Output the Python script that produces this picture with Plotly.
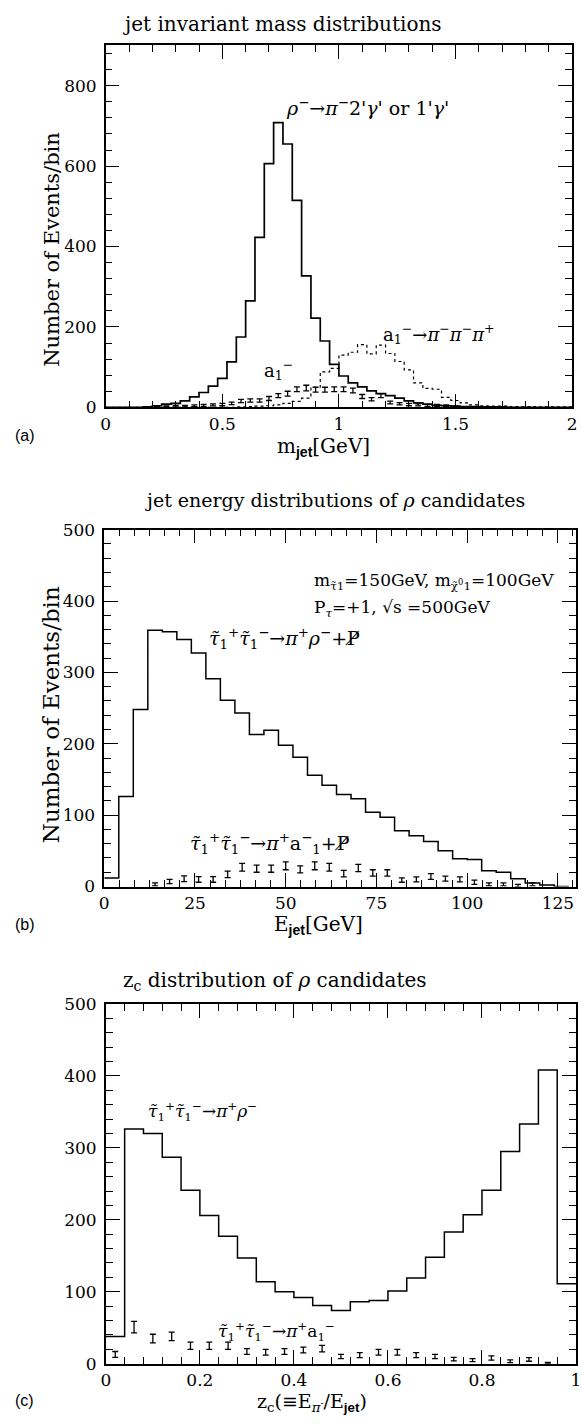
import plotly.graph_objects as go

W, H = 582, 1427

# ---------------- data ----------------
# (a) jet invariant mass, bins of 0.04 GeV from 0 to 2
a_bin0, a_binw = 0.0, 0.04
a_rho = [0, 0, 0, 0, 1, 4, 8, 10, 16, 26, 37, 53, 72, 113, 175, 265, 423, 606, 708, 655,
         515, 327, 222, 165, 107, 78, 61, 51, 41, 34, 29, 23, 16, 11, 8, 5, 4, 3, 2, 2,
         1, 1, 1, 0, 0, 0, 0, 0, 0, 0]
a_a1_3pi = [0, 0, 0, 0, 0, 0, 0, 0, 0, 0, 0, 0, 0, 0, 1, 2, 3, 4, 6, 10,
            15, 23, 50, 88, 97, 130, 137, 156, 133, 155, 134, 114, 93, 61, 47, 45, 25, 17, 11, 6,
            4, 3, 3, 2, 2, 2, 1, 1, 1, 1]
a_err_x = [0.22, 0.26, 0.30, 0.34, 0.38, 0.42, 0.46, 0.50, 0.54, 0.58, 0.62, 0.66, 0.70, 0.74,
           0.78, 0.82, 0.86, 0.90, 0.94, 0.98, 1.02, 1.06, 1.10, 1.14, 1.18, 1.22, 1.26, 1.30,
           1.34, 1.38, 1.42, 1.46, 1.50]
a_err_y = [2, 2, 3, 3, 4, 5, 6, 7, 10, 16, 17, 17, 22, 29, 34, 45, 48, 44, 44, 45, 45, 42,
           27, 20, 29, 12, 9, 7, 6, 5, 5, 4, 2]
a_err_e = [1.5, 1.5, 2, 2, 2, 2.5, 2.5, 3, 3, 4, 4, 4, 5, 5, 6, 6, 7, 6, 6, 6, 6, 6,
           5, 4, 5, 3.5, 3, 3, 2.5, 2.5, 2.5, 2, 1.5]

# (b) jet energy, bins of 4 GeV from 0 to 128
b_bin0, b_binw = 0.0, 4.0
b_rho = [12, 126, 248, 359, 357, 346, 327, 291, 261, 243, 213, 219, 198, 181, 156, 142,
         129, 123, 104, 97, 78, 71, 63, 50, 39, 38, 22, 20, 11, 5, 2, 0]
b_err_x = [14, 18, 22, 26, 30, 34, 38, 42, 46, 50, 54, 58, 62, 66, 70, 74, 78, 82, 86, 90,
           94, 98, 102, 106, 110, 114, 118]
b_err_y = [3, 7, 11, 10, 10, 17, 27, 25, 25, 29, 24, 29, 27, 18, 26, 19, 19, 9, 10, 14,
           11, 10, 6, 3, 3, 1.5, 3]
b_err_e = [2, 3, 4, 4, 4, 4.5, 5.5, 5, 5, 5.5, 5, 5.5, 5.5, 4.5, 5, 4.5, 4.5, 3, 3.5, 4,
           3.5, 3.5, 3, 2, 2, 1.5, 2]

# (c) z_c distribution, bins of 0.04 from 0 to 1
c_bin0, c_binw = 0.0, 0.04
c_rho = [38, 326, 320, 287, 241, 206, 177, 147, 114, 100, 92, 81, 74, 86, 88, 101, 119,
         148, 183, 207, 241, 295, 333, 408, 111]
c_err_x = [0.02, 0.06, 0.10, 0.14, 0.18, 0.22, 0.26, 0.30, 0.34, 0.38, 0.42, 0.46, 0.50,
           0.54, 0.58, 0.62, 0.66, 0.70, 0.74, 0.78, 0.82, 0.86, 0.90, 0.94]
c_err_y = [13, 51, 35, 38, 25, 25, 25, 17, 16, 17, 19, 21, 10, 12, 16, 16, 12, 10, 6.5, 5,
           8, 3.5, 6, 1]
c_err_e = [4, 8, 6, 6, 5, 5, 5, 4, 4, 4, 4, 4.5, 3, 3.5, 4, 4, 3.5, 3, 2.5, 2, 3, 2, 2.5, 1]


def step_xy(start, width, vals):
    xs = [start + i * width for i in range(len(vals) + 1)]
    ys = list(vals) + [vals[-1]]
    return xs, ys


SERIF = "DejaVu Serif"
fig = go.Figure()


def add_step(vals, start, width, xa, ya, dash="solid", lw=1.6):
    x, y = step_xy(start, width, vals)
    fig.add_trace(go.Scatter(x=x, y=y, mode="lines",
                             line=dict(color="black", width=lw, shape="hv", dash=dash),
                             xaxis=xa, yaxis=ya, showlegend=False, hoverinfo="skip"))


def add_err(xs, ys, es, xa, ya):
    fig.add_trace(go.Scatter(x=xs, y=ys, mode="markers",
                             marker=dict(size=1, color="rgba(0,0,0,0)"),
                             error_y=dict(type="data", array=es, color="black",
                                          thickness=1.3, width=3),
                             xaxis=xa, yaxis=ya, showlegend=False, hoverinfo="skip"))


# ---- panel (a)
add_step(a_rho, a_bin0, a_binw, "x", "y", lw=1.7)
add_step(a_a1_3pi, a_bin0, a_binw, "x", "y", dash="dot", lw=1.2)
add_err(a_err_x, a_err_y, a_err_e, "x", "y")
# ---- panel (b)
add_step(b_rho, b_bin0, b_binw, "x2", "y2", lw=1.5)
add_err(b_err_x, b_err_y, b_err_e, "x2", "y2")
# ---- panel (c)
add_step(c_rho, c_bin0, c_binw, "x3", "y3", lw=1.5)
add_err(c_err_x, c_err_y, c_err_e, "x3", "y3")


def axis(domain, rng, dtick, minor_dtick, anchor, standoff):
    return dict(domain=domain, range=rng, dtick=dtick, tick0=0, anchor=anchor,
                showline=True, linecolor="black", linewidth=1.5, mirror="allticks",
                ticks="inside", ticklen=14, tickwidth=1.3, tickcolor="black",
                showgrid=False, zeroline=False, fixedrange=True,
                ticklabelstandoff=standoff,
                tickfont=dict(family=SERIF, size=17, color="black"),
                minor=dict(ticks="inside", ticklen=7, tickwidth=1, tickcolor="black",
                           dtick=minor_dtick, tick0=0, showgrid=False))


def xd(l, r):
    return [l / W, r / W]


def yd(top, bottom):
    return [1 - bottom / H, 1 - top / H]


fig.update_layout(
    width=W, height=H, margin=dict(l=0, r=0, t=0, b=0),
    paper_bgcolor="white", plot_bgcolor="white",
    xaxis=axis(xd(102.5, 577), [0, 2], 0.5, 0.1, "y", 0),
    yaxis=axis(yd(36, 403), [0, 900], 200, 40, "x", 4),
    xaxis2=axis(xd(101, 581), [0, 130], 25, 25 / 6, "y2", 0),
    yaxis2=axis(yd(527, 889), [0, 500], 100, 20, "x2", 4),
    xaxis3=axis(xd(102.6, 581), [0, 1], 0.2, 0.04, "y3", 0),
    yaxis3=axis(yd(1008, 1373), [0, 500], 100, 20, "x3", 4),
)
fig.update_xaxes(tickformat="~g")


def ann(text, px, py, size=18, xanchor="left", family=SERIF, angle=0):
    fig.add_annotation(text=text, x=px / W, y=1 - py / H, xref="paper", yref="paper",
                       xanchor=xanchor, yanchor="middle", showarrow=False, textangle=angle,
                       font=dict(family=family, size=size, color="black"))


TT = "τ\u0303"
PSLASH = "P\u0338"
JET = "<sub><span style='font-family:Liberation Sans;font-weight:bold'>jet</span></sub>"

# titles
ann("jet invariant mass distributions", 282, 14, 20, "center")
ann("jet energy distributions of <i>ρ</i> candidates", 336, 497, 19, "center")
ann("z<sub>c</sub> distribution of <i>ρ</i> candidates", 118, 985, 20, "left")

# y titles
ann("Number of Events/bin", 47, 243, 21, "center", angle=-90)
ann("Number of Events/bin", 47, 715, 23, "center", angle=-90)

# x titles
ann("m" + JET + "[GeV]", 324, 443, 20, "center")
ann("E" + JET + "[GeV]", 319, 928, 20, "center")
ann("z<sub>c</sub>(≡E<sub><i>π</i><sup>-</sup></sub>/E" + JET + ")", 312, 1412, 19, "center")

# panel labels
ann("(a)", 20, 432, 16, "center", family="Liberation Sans")
ann("(b)", 20, 928, 16, "center", family="Liberation Sans")
ann("(c)", 20, 1410, 16, "center", family="Liberation Sans")

# in-plot labels (a)
ann("<i>ρ</i><sup>−</sup>→<i>π</i><sup>−</sup>2'<i>γ</i>' or 1'<i>γ</i>'", 284, 98, 19)
ann("a<sub>1</sub><sup>−</sup>", 262, 365, 18)
ann("a<sub>1</sub><sup>−</sup>→<i>π</i><sup>−</sup><i>π</i><sup>−</sup><i>π</i><sup>+</sup>", 383, 329, 18)

# in-plot labels (b)
ann("m<sub>" + TT + "1</sub>=150GeV, m<sub>χ\u0303<sup>0</sup>1</sub>=100GeV", 312, 580, 17)
ann("P<sub><i>τ</i></sub>=+1, √s =500GeV", 312, 607, 17)
ann("<i>" + TT + "</i><sub>1</sub><sup>+</sup><i>" + TT + "</i><sub>1</sub><sup>−</sup>→<i>π</i><sup>+</sup><i>ρ</i><sup>−</sup>+" + PSLASH,
    206, 637, 19)
ann("<i>" + TT + "</i><sub>1</sub><sup>+</sup><i>" + TT + "</i><sub>1</sub><sup>−</sup>→<i>π</i><sup>+</sup>a<sup>−</sup><sub>1</sub>+" + PSLASH,
    186, 845, 19)

# in-plot labels (c)
ann("<i>" + TT + "</i><sub>1</sub><sup>+</sup><i>" + TT + "</i><sub>1</sub><sup>−</sup>→<i>π</i><sup>+</sup><i>ρ</i><sup>−</sup>",
    143, 1117, 17)
ann("<i>" + TT + "</i><sub>1</sub><sup>+</sup><i>" + TT + "</i><sub>1</sub><sup>−</sup>→<i>π</i><sup>+</sup>a<sub>1</sub><sup>−</sup>",
    215, 1340, 17)

fig.write_html("out.html")
